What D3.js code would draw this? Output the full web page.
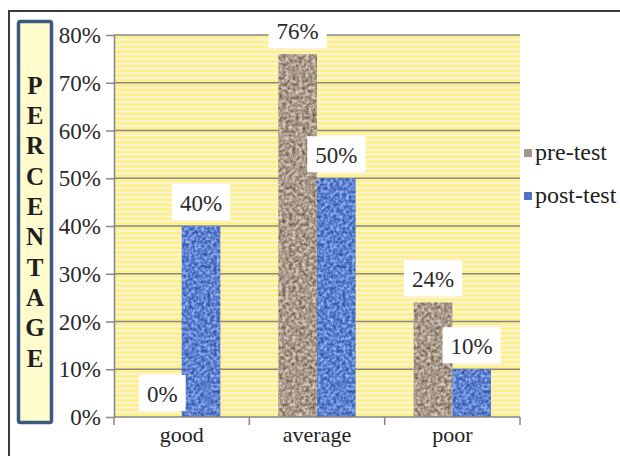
<!DOCTYPE html>
<html>
<head>
<meta charset="utf-8">
<script src="https://cdn.jsdelivr.net/npm/d3@7"></script>
<style>
  html, body { margin: 0; padding: 0; background: #fff; }
  svg { display: block; }
  svg text { font-family: "Liberation Serif", "Times New Roman", Tinos, serif; }
</style>
</head>
<body>
<svg id="chart" width="620" height="456"></svg>
<script>
// Result groups and test series
const categories = ["good", "average", "poor"];
const seriesNames = ["pre-test", "post-test"];
const preTest = [0, 76, 24];
const postTest = [40, 50, 10];
const yTicks = [0, 10, 20, 30, 40, 50, 60, 70, 80];
const axisTitle = "PERCENTAGE";

const rows = categories.map((c, i) => ({ category: c, values: [preTest[i], postTest[i]] }));

const serif = "'Liberation Serif', 'Times New Roman', Tinos, serif";
const svg = d3.select("#chart");
const plot = { left: 114, right: 520, top: 35, bottom: 417 };

const x0 = d3.scaleBand().domain(categories).range([plot.left, plot.right]).paddingInner(0).paddingOuter(0);
const x1 = d3.scaleBand().domain(seriesNames).range([0, x0.bandwidth()]).paddingInner(0).paddingOuter(0.75);
const y = d3.scaleLinear().domain([0, 80]).range([plot.bottom, plot.top]);

const defs = svg.append("defs");

// Horizontal yellow hatching behind the bars, one stripe every 1% of the scale
const stripeH = (y(0) - y(10)) / 10;
const stripes = defs.append("pattern")
  .attr("id", "stripes")
  .attr("patternUnits", "userSpaceOnUse")
  .attr("x", 0).attr("y", plot.top)
  .attr("width", 20).attr("height", stripeH);
stripes.append("rect").attr("width", 20).attr("height", stripeH).attr("fill", "#fcf0df");
stripes.append("rect").attr("y", stripeH * 0.3).attr("width", 20).attr("height", stripeH * 0.42).attr("fill", "#fbf466");

// Grainy textures for the two series (gradient-mapped fractal noise)
function grain(id, seed, freq, tables) {
  const f = defs.append("filter").attr("id", id)
    .attr("x", 0).attr("y", 0).attr("width", 1).attr("height", 1)
    .attr("color-interpolation-filters", "sRGB");
  f.append("feTurbulence").attr("type", "fractalNoise").attr("baseFrequency", freq)
    .attr("numOctaves", 3).attr("seed", seed).attr("result", "noise");
  f.append("feColorMatrix").attr("in", "noise").attr("type", "matrix")
    .attr("values", "1 0 0 0 0  1 0 0 0 0  1 0 0 0 0  0 0 0 0 1").attr("result", "grey");
  const ct = f.append("feComponentTransfer").attr("in", "grey").attr("result", "tinted");
  ct.append("feFuncR").attr("type", "table").attr("tableValues", tables[0]);
  ct.append("feFuncG").attr("type", "table").attr("tableValues", tables[1]);
  ct.append("feFuncB").attr("type", "table").attr("tableValues", tables[2]);
  ct.append("feFuncA").attr("type", "table").attr("tableValues", "1 1");
  f.append("feComposite").attr("in", "tinted").attr("in2", "SourceAlpha").attr("operator", "in");
}
grain("grainPre", 4, "0.3", [
  "0.38 0.40 0.55 0.66 0.79 0.88 0.90",
  "0.31 0.33 0.48 0.60 0.74 0.84 0.87",
  "0.25 0.27 0.42 0.54 0.69 0.80 0.84"
]);
grain("grainPost", 9, "0.32", [
  "0.14 0.16 0.26 0.36 0.52 0.66 0.72",
  "0.26 0.29 0.40 0.50 0.64 0.76 0.80",
  "0.55 0.58 0.72 0.82 0.91 0.96 0.98"
]);
const seriesFilter = { "pre-test": "url(#grainPre)", "post-test": "url(#grainPost)" };
const seriesSwatch = { "pre-test": "#a4968a", "post-test": "#4f74c8" };

// Outer frame
svg.append("rect").attr("x", 9).attr("y", 11).attr("width", 640).attr("height", 480)
  .attr("fill", "none").attr("stroke", "#3a3a3a").attr("stroke-width", 2);

// Vertical axis title in its box
svg.append("rect").attr("x", 18.5).attr("y", 21.5).attr("width", 33).attr("height", 401)
  .attr("rx", 2).attr("fill", "#fffbcc").attr("stroke", "#3b5a80").attr("stroke-width", 3.5);
const letters = axisTitle.split("");
svg.append("g").selectAll("text").data(letters).join("text")
  .attr("x", 35).attr("y", (d, i) => 85 + i * 30.35 + 8.5)
  .attr("text-anchor", "middle").style("font-family", serif)
  .attr("font-size", 25).attr("font-weight", "bold").attr("fill", "#1e1e1e")
  .text(d => d);

// Plot background
svg.append("rect").attr("x", plot.left).attr("y", plot.top)
  .attr("width", plot.right - plot.left).attr("height", plot.bottom - plot.top)
  .attr("fill", "url(#stripes)");

// Gridlines
svg.append("g").selectAll("line").data(yTicks.filter(t => t > 0)).join("line")
  .attr("x1", plot.left).attr("x2", plot.right)
  .attr("y1", d => y(d)).attr("y2", d => y(d))
  .attr("stroke", "#8a8580").attr("stroke-width", 1.5);

// Y axis
const yAxis = svg.append("g").attr("transform", `translate(${plot.left},0)`)
  .call(d3.axisLeft(y).tickValues(yTicks).tickSize(8).tickSizeOuter(0).tickPadding(5).tickFormat(d => d + "%"));
yAxis.attr("font-family", null).attr("font-size", null);
yAxis.select(".domain").attr("stroke", "#8a8580").attr("stroke-width", 1.5);
yAxis.selectAll(".tick line").attr("stroke", "#8a8580").attr("stroke-width", 1.5);
yAxis.selectAll(".tick text").style("font-family", serif)
  .attr("font-size", 23).attr("fill", "#2a2a2a").attr("dy", "0.33em");

// Bars
const groups = svg.append("g").selectAll("g").data(rows).join("g")
  .attr("transform", d => `translate(${x0(d.category)},0)`);
groups.selectAll("rect").data(d => d.values.map((v, i) => ({ s: seriesNames[i], v })))
  .join("rect")
  .attr("x", d => x1(d.s)).attr("width", x1.bandwidth())
  .attr("y", d => y(d.v)).attr("height", d => y(0) - y(d.v))
  .attr("fill", "#888").attr("filter", d => seriesFilter[d.s]);

// X axis
const xg = svg.append("g");
xg.append("line").attr("x1", plot.left).attr("x2", plot.right)
  .attr("y1", y(0)).attr("y2", y(0)).attr("stroke", "#8a8580").attr("stroke-width", 1.5);
const bounds = categories.map(c => x0(c)).concat([x0.range()[1]]);
xg.selectAll("line.tk").data(bounds).join("line").attr("class", "tk")
  .attr("x1", d => d).attr("x2", d => d)
  .attr("y1", y(0)).attr("y2", y(0) + 8)
  .attr("stroke", "#8a8580").attr("stroke-width", 1.5);
xg.selectAll("text").data(categories).join("text")
  .attr("x", d => x0(d) + x0.bandwidth() / 2).attr("y", 442)
  .attr("text-anchor", "middle").style("font-family", serif)
  .attr("font-size", 22).attr("fill", "#222")
  .text(d => d);

// Value labels in white boxes above each bar
const labels = svg.append("g");
rows.forEach(r => {
  r.values.forEach((v, i) => {
    const s = seriesNames[i];
    const cx = x0(r.category) + x1(s) + x1.bandwidth() / 2;
    const boxBottom = y(v) - 6;
    const boxH = 36;
    const g = labels.append("g");
    const box = g.append("rect").attr("fill", "#fff");
    const t = g.append("text").attr("x", cx).attr("y", boxBottom - boxH / 2 + 8.5)
      .attr("text-anchor", "middle").style("font-family", serif)
      .attr("font-size", 23).attr("fill", "#2a2a2a")
      .text(v + "%");
    const tw = t.node().getComputedTextLength();
    box.attr("x", cx - tw / 2 - 8).attr("width", tw + 16)
      .attr("y", boxBottom - boxH).attr("height", boxH);
  });
});

// Legend
const legend = svg.append("g");
seriesNames.forEach((s, i) => {
  const cy = 153 + i * 43;
  legend.append("rect").attr("x", 524).attr("y", cy - 4).attr("width", 8).attr("height", 8)
    .attr("fill", seriesSwatch[s]);
  legend.append("text").attr("x", 535).attr("y", cy + 7).style("font-family", serif)
    .attr("font-size", 24).attr("fill", "#1e1e1e")
    .text(s);
});
</script>
</body>
</html>
